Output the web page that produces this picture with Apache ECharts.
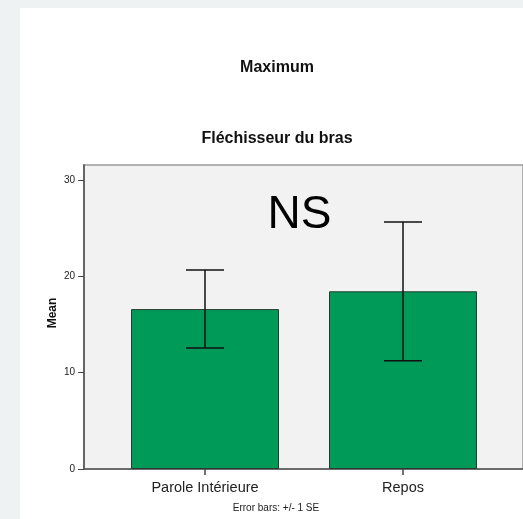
<!DOCTYPE html>
<html>
<head>
<meta charset="utf-8">
<script src="https://cdn.jsdelivr.net/npm/echarts@6/dist/echarts.min.js"></script>
<style>
html,body{margin:0;padding:0;background:#eef2f3;}
#c{width:523px;height:519px;}
</style>
</head>
<body>
<div id="c"></div>
<script>
const categories = ['Parole Intérieure', 'Repos'];
const means = [16.6, 18.45];
const stdErr = [4.05, 7.2];
const yTicks = [0, 10, 20, 30];
const yMax = 31.56;

const FONT = "'Liberation Sans', Arial, sans-serif";
const errData = categories.map((c, i) => [i, means[i] - stdErr[i], means[i] + stdErr[i]]);

const chart = echarts.init(document.getElementById('c'), null, {renderer: 'canvas'});
chart.setOption({
  backgroundColor: '#eef2f3',
  animation: false,
  graphic: [
    {type: 'rect', z: -10, shape: {x: 20, y: 8, width: 503, height: 511}, style: {fill: '#ffffff'}},
    {type: 'text', x: 277, y: 68, style: {text: 'Maximum', font: 'bold 16px ' + FONT, fill: '#111', textAlign: 'center', textVerticalAlign: 'middle'}},
    {type: 'text', x: 277, y: 139, style: {text: 'Fléchisseur du bras', font: 'bold 16px ' + FONT, fill: '#111', textAlign: 'center', textVerticalAlign: 'middle'}},
    {type: 'text', x: 53, y: 313, rotation: Math.PI / 2, style: {text: 'Mean', font: 'bold 12px ' + FONT, fill: '#111', textAlign: 'center', textVerticalAlign: 'middle'}},
    {type: 'text', x: 299.5, y: 215, z: 100, style: {text: 'NS', font: '46px ' + FONT, fill: '#000', textAlign: 'center', textVerticalAlign: 'middle'}},
    {type: 'text', x: 276, y: 508, style: {text: 'Error bars: +/- 1 SE', font: '10px ' + FONT, fill: '#222', textAlign: 'center', textVerticalAlign: 'middle'}}
  ],
  grid: [
    {left: 84, top: 165, width: 440, height: 304, show: true, backgroundColor: '#f2f2f2', borderColor: '#999', borderWidth: 1.5, containLabel: false},
    {left: 106, top: 165, width: 396, height: 304, containLabel: false}
  ],
  xAxis: [
    {gridIndex: 0, type: 'category', data: [''], axisLine: {lineStyle: {color: '#555', width: 1.5}}, axisTick: {show: false}, axisLabel: {show: false}},
    {gridIndex: 1, type: 'category', data: categories, axisLine: {show: false},
     axisTick: {show: true, alignWithLabel: true, length: 6, lineStyle: {color: '#444', width: 1.5}},
     axisLabel: {fontFamily: FONT, fontSize: 14.5, color: '#222', margin: 11}}
  ],
  yAxis: [
    {gridIndex: 0, type: 'value', min: 0, max: yMax, interval: 10,
     axisLine: {show: true, lineStyle: {color: '#666', width: 2}},
     axisTick: {show: true, inside: false, length: 6, customValues: yTicks, lineStyle: {color: '#444'}},
     axisLabel: {fontFamily: FONT, fontSize: 10, color: '#222', margin: 9, customValues: yTicks},
     splitLine: {show: false}},
    {gridIndex: 1, type: 'value', min: 0, max: yMax, show: false, splitLine: {show: false}}
  ],
  series: [
    {type: 'bar', xAxisIndex: 1, yAxisIndex: 1, data: means, barWidth: 148,
     itemStyle: {color: '#009a58', borderColor: '#2b3a30', borderWidth: 1}},
    {type: 'custom', xAxisIndex: 1, yAxisIndex: 1, data: errData, z: 10,
     renderItem: function (params, api) {
       const lo = api.coord([api.value(0), api.value(1)]);
       const hi = api.coord([api.value(0), api.value(2)]);
       const hw = 19;
       const st = {stroke: '#111', lineWidth: 1.5};
       return {type: 'group', children: [
         {type: 'line', shape: {x1: lo[0], y1: lo[1], x2: hi[0], y2: hi[1]}, style: st},
         {type: 'line', shape: {x1: lo[0] - hw, y1: lo[1], x2: lo[0] + hw, y2: lo[1]}, style: st},
         {type: 'line', shape: {x1: hi[0] - hw, y1: hi[1], x2: hi[0] + hw, y2: hi[1]}, style: st}
       ]};
     }}
  ]
});
</script>
</body>
</html>
